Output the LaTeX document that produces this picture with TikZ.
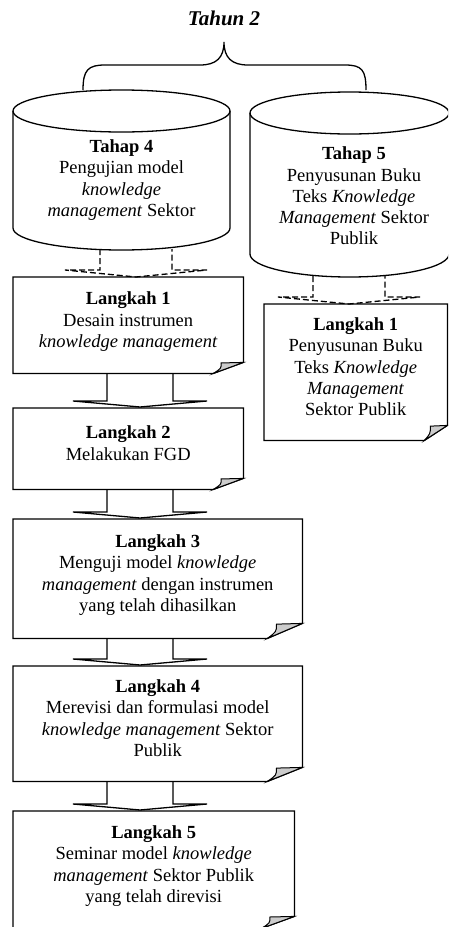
\documentclass[tikz,border=0pt]{standalone}
\usepackage{fontspec}
\setmainfont{Liberation Serif}
\usetikzlibrary{calc}
\tikzstyle{langkah}=[
    anchor = north west,
    align = center,
    inner sep = 0pt,
    text depth = 11pt,
    font = \fontsize{18.5}{21.3}\selectfont
]
\tikzset{
    box line/.style = {line width=1.3pt, line join=miter},
    shaft half/.store in = \shafthalf, head half/.store in = \headhalf,
    head gap/.store in = \headgap, tip gap/.store in = \tipgap,
    shaft half=33, head half=67, head gap=7, tip gap=1
}
% box with curled corner: node, fold width, fold height
\newcommand{\foldbox}[3]{%
    \draw[box line] (#1.north west) -- (#1.north east)
        -- ([yshift=#3pt]#1.south east) -- ([xshift=-#2pt]#1.south east)
        -- (#1.south west) -- cycle;
    \filldraw[box line, line width=1pt, fill=gray!40] ([xshift=-#2pt]#1.south east)
        .. controls ([xshift=-0.74*#2pt, yshift=0.45*#3pt]#1.south east)
        .. ([xshift=-0.74*#2pt, yshift=0.95*#3pt]#1.south east)
        -- ([yshift=#3pt]#1.south east) -- cycle;
}
% block arrow: from, to, centre x
\newcommand{\blockarrow}[4][]{%
    \draw[box line, #1] let \p1 = (#2), \p2 = (#3) in
        ({#4pt-\shafthalf pt}, \y1) -- ({#4pt-\shafthalf pt}, {\y2+\headgap pt})
        -- ({#4pt-\headhalf pt}, {\y2+\headgap pt}) -- (#4pt, {\y2+\tipgap pt})
        -- ({#4pt+\headhalf pt}, {\y2+\headgap pt}) -- ({#4pt+\shafthalf pt}, {\y2+\headgap pt})
        -- ({#4pt+\shafthalf pt}, \y1);
}

\begin{document}
\begin{tikzpicture}[x=1pt, y=-1pt,
    tahap/.style = {align=center, inner sep=0pt, font=\fontsize{18.5}{21.3}\selectfont},
    dashline/.style = {dash pattern=on 6pt off 3pt, shaft half=36, head half=71, head gap=7, tip gap=0}]
    \useasboundingbox (0,0) rectangle (448,927);
    \clip (0,0) rectangle (448,927);

    \node[font=\fontsize{21}{25}\selectfont\bfseries\itshape] (title) at (224,18) {Tahun 2};
    % brace
    \draw[box line] (83,90) .. controls (83,70) and (88,65) .. (105,65) -- (200,65)
        .. controls (216,65) and (224,58) .. (224,42)
        .. controls (224,58) and (232,65) .. (248,65) -- (345,65)
        .. controls (362,65) and (366,70) .. (366,90);

    % cylinders
    \draw[box line, fill=white] (13,111) -- (13,228)
        arc[start angle=180, end angle=360, x radius=108.5pt, y radius=22pt] -- (230,111)
        arc[start angle=0, end angle=180, x radius=108.5pt, y radius=21pt] -- cycle;
    \draw[box line] (13,111) arc[start angle=180, end angle=360, x radius=108.5pt, y radius=21pt];
    \draw[box line, fill=white] (250,113) -- (250,254)
        arc[start angle=180, end angle=360, x radius=99.5pt, y radius=23pt] -- (449,113)
        arc[start angle=0, end angle=180, x radius=99.5pt, y radius=21pt] -- cycle;
    \draw[box line] (250,113) arc[start angle=180, end angle=360, x radius=99.5pt, y radius=21pt];
    \coordinate (c4) at (136,249);
    \coordinate (c5) at (349,276);

    \node[tahap] (t4) at (121.5,180) {\textbf{Tahap 4}\\Pengujian model\\\textit{knowledge}\\\textit{management} Sektor};
    \node[tahap] (t5) at (354,196) {\textbf{Tahap 5}\\Penyusunan Buku\\Teks \textit{Knowledge}\\\textit{Management} Sektor\\Publik};

    % steps
    \node[langkah, minimum width=230pt, minimum height=96pt] (a1) at (13,277) {\textbf{Langkah 1}\\Desain instrumen\\\textit{knowledge management}};
    \node[langkah, minimum width=230pt, minimum height=81pt] (a2) at (13,408) {\textbf{Langkah 2}\\Melakukan FGD};
    \node[langkah, minimum width=289pt, minimum height=119pt] (a3) at (13,519) {\textbf{Langkah 3}\\Menguji model \textit{knowledge}\\\textit{management} dengan instrumen\\yang telah dihasilkan};
    \node[langkah, minimum width=289pt, minimum height=115pt] (a4) at (13,666) {\textbf{Langkah 4}\\Merevisi dan formulasi model\\\textit{knowledge management} Sektor\\Publik};
    \node[langkah, minimum width=281pt, minimum height=117pt] (a5) at (13,811) {\textbf{Langkah 5}\\Seminar model \textit{knowledge}\\\textit{management} Sektor Publik\\yang telah direvisi};
    \node[langkah, minimum width=183pt, minimum height=136pt] (b1) at (264,304) {\textbf{Langkah 1}\\Penyusunan Buku\\Teks \textit{Knowledge}\\\textit{Management}\\Sektor Publik};

    \foldbox{a1}{30}{11}
    \foldbox{a2}{30}{11}
    \foldbox{a3}{35}{15}
    \foldbox{a4}{35}{14}
    \foldbox{a5}{33}{12}
    \foldbox{b1}{23}{15}

    \blockarrow[dashline]{c4}{a1.north}{136}
    \blockarrow[dashline]{c5}{b1.north}{349}
    \blockarrow{a1.south}{a2.north}{140}
    \blockarrow{a2.south}{a3.north}{140}
    \blockarrow{a3.south}{a4.north}{140}
    \blockarrow{a4.south}{a5.north}{140}
\end{tikzpicture}
\end{document}
